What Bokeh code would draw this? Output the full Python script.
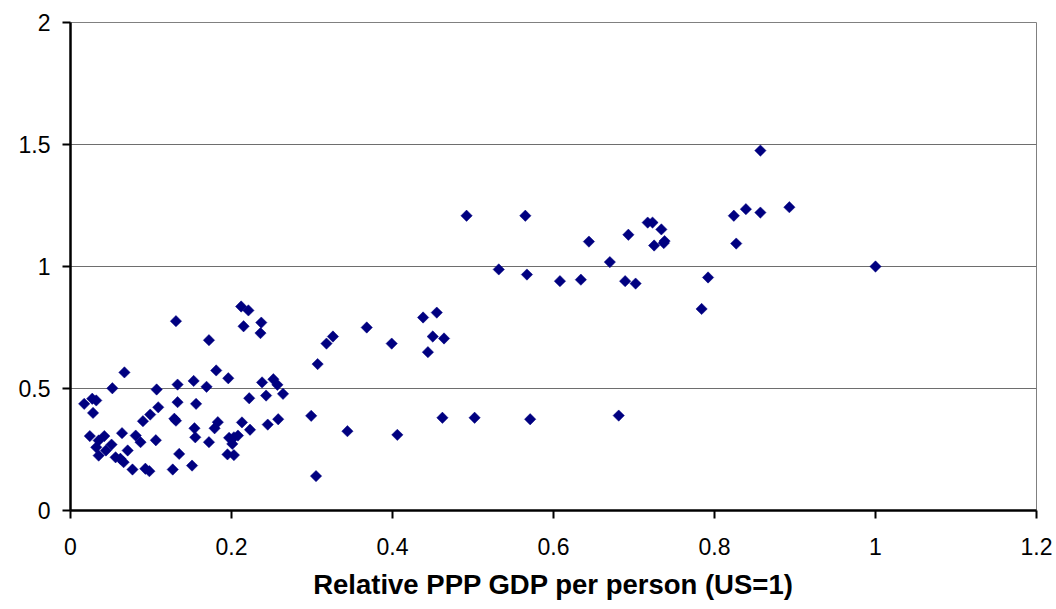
import math
from bokeh.plotting import figure
from bokeh.models import FixedTicker, NumeralTickFormatter, Range1d, Title
from bokeh.embed import file_html
from bokeh.resources import INLINE

gdp_rel = [
    0.131, 0.212, 0.221, 0.215, 0.237, 0.236, 0.172, 0.067, 0.052, 0.107,
    0.133, 0.153, 0.169, 0.181, 0.196, 0.238, 0.252, 0.257, 0.264, 0.243,
    0.222, 0.017, 0.027, 0.032, 0.028, 0.109, 0.133, 0.156, 0.099, 0.090,
    0.129, 0.131, 0.154, 0.179, 0.183, 0.155, 0.172, 0.213, 0.223, 0.245,
    0.258, 0.197, 0.203, 0.208, 0.201, 0.195, 0.203, 0.024, 0.042, 0.035,
    0.032, 0.051, 0.044, 0.035, 0.064, 0.071, 0.056, 0.062, 0.066, 0.077,
    0.081, 0.087, 0.106, 0.093, 0.098, 0.127, 0.135, 0.151,
    0.492, 0.565, 0.532, 0.567, 0.608, 0.634, 0.438, 0.455, 0.368, 0.326,
    0.318, 0.399, 0.450, 0.464, 0.444, 0.307, 0.299, 0.344, 0.406, 0.462,
    0.502, 0.571, 0.305,
    0.857, 0.824, 0.839, 0.857, 0.893, 0.827, 0.644, 0.693, 0.717, 0.723,
    0.734, 0.725, 0.737, 0.738, 0.670, 0.689, 0.702, 0.792, 0.784, 1.000,
    0.681,
]
y_vals = [
    0.776, 0.836, 0.820, 0.755, 0.770, 0.727, 0.698, 0.566, 0.501, 0.496,
    0.516, 0.531, 0.507, 0.574, 0.542, 0.525, 0.538, 0.515, 0.478, 0.471,
    0.460, 0.437, 0.458, 0.451, 0.400, 0.423, 0.444, 0.437, 0.393, 0.366,
    0.376, 0.368, 0.337, 0.337, 0.362, 0.300, 0.280, 0.361, 0.331, 0.352,
    0.374, 0.298, 0.300, 0.307, 0.273, 0.230, 0.227, 0.305, 0.305, 0.287,
    0.259, 0.270, 0.246, 0.225, 0.317, 0.246, 0.218, 0.212, 0.198, 0.168,
    0.307, 0.280, 0.288, 0.171, 0.161, 0.168, 0.232, 0.184,
    1.208, 1.208, 0.988, 0.967, 0.940, 0.946, 0.791, 0.811, 0.750, 0.713,
    0.684, 0.684, 0.713, 0.705, 0.649, 0.600, 0.388, 0.325, 0.310, 0.380,
    0.380, 0.374, 0.141,
    1.475, 1.208, 1.235, 1.221, 1.243, 1.094, 1.102, 1.130, 1.180, 1.180,
    1.152, 1.086, 1.096, 1.104, 1.018, 0.940, 0.930, 0.955, 0.826, 1.000,
    0.389,
]
x_ticks = [0, 0.2, 0.4, 0.6, 0.8, 1.0, 1.2]
y_ticks = [0, 0.5, 1.0, 1.5, 2.0]
x_label = "Relative PPP GDP per person (US=1)"

p = figure(width=1052, height=609, output_backend="svg", toolbar_location=None,
           x_range=Range1d(0, 1.2), y_range=Range1d(0, 2),
           min_border_left=70, min_border_right=16, min_border_top=22,
           min_border_bottom=99)
p.outline_line_color = "#808080"
p.outline_line_width = 1

p.scatter(gdp_rel, y_vals, marker="square", size=8.0, angle=math.pi / 4,
          fill_color="#000080", line_color="#000080", line_width=0.5)

p.xgrid.visible = False
p.ygrid.ticker = FixedTicker(ticks=y_ticks)
p.ygrid.grid_line_color = "#6e6e6e"
p.ygrid.grid_line_width = 1

for ax, ticks in ((p.xaxis[0], x_ticks), (p.yaxis[0], y_ticks)):
    ax.ticker = FixedTicker(ticks=ticks)
    ax.formatter = NumeralTickFormatter(format="0.[0]")
    ax.axis_line_color = "black"
    ax.axis_line_width = 2.5
    ax.major_tick_line_color = "black"
    ax.major_tick_line_width = 2
    ax.major_tick_out = 8
    ax.major_tick_in = 0
    ax.minor_tick_line_color = None
    ax.major_label_text_font = "Liberation Sans"
    ax.major_label_text_font_size = "23px"
    ax.major_label_text_color = "black"

p.yaxis[0].major_label_standoff = 12
p.xaxis[0].major_label_standoff = 19

xlab = Title(text=x_label, align="center", text_font="Liberation Sans",
             text_font_size="27.5px", text_font_style="bold",
             text_color="black", standoff=19, offset=0)
p.add_layout(xlab, "below")

open("out.html", "w").write(file_html(p, INLINE))
